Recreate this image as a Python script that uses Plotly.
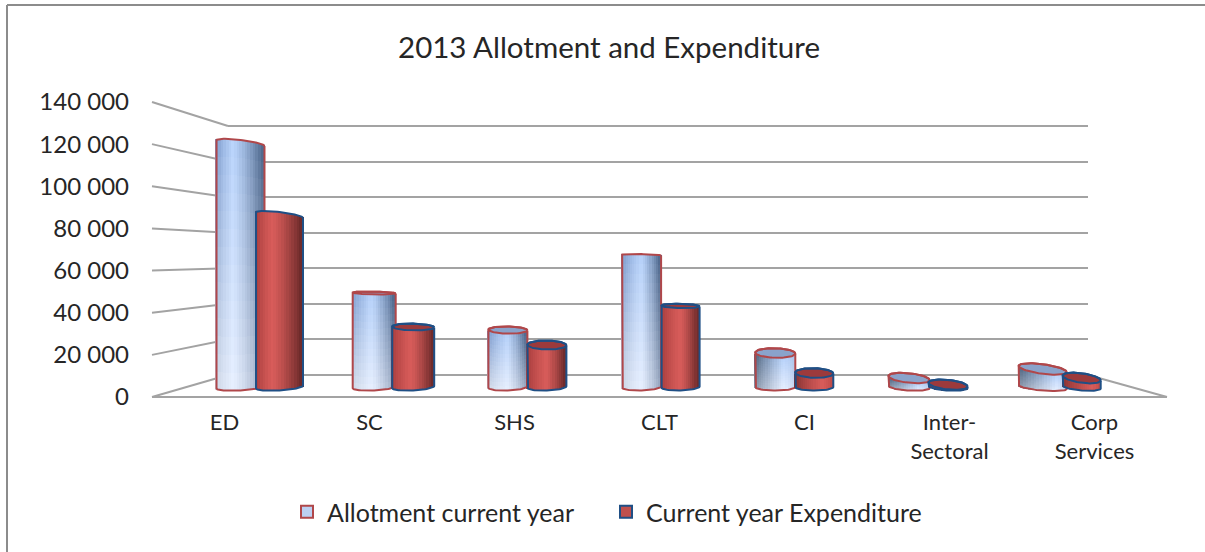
import math
import plotly.graph_objects as go

W, H = 1205, 552
FONT = "Lato"
TEXT = "#262626"

categories = ["ED", "SC", "SHS", "CLT", "CI", "Inter-<br>Sectoral", "Corp<br>Services"]
allotment = [122000, 47000, 28500, 66000, 17000, 4500, 9000]
expenditure = [86000, 30000, 21000, 40500, 7000, 1200, 4500]
tick_vals = [0, 20000, 40000, 60000, 80000, 100000, 120000, 140000]
tick_text = ["0", "20 000", "40 000", "60 000", "80 000", "100 000", "120 000", "140 000"]
series_names = ["Allotment current year", "Current year Expenditure"]

# style only: apparent perspective of each cylinder
width_a = [48, 43, 39, 39, 40, 41, 48]
width_e = [47, 42, 39, 38, 38, 39, 38]
highlight = [0.36, 0.45, 0.5, 0.5, 0.72, 0.75, 0.8]
tilt_top = [0.12, 0.02, 0.02, 0.02, 0.03, 0.1, 0.13]
tilt_bot = [-0.06, -0.05, -0.04, -0.03, 0.0, 0.06, 0.08]

GROUP_PX = 133.7
PX_PER_UNIT = 2 / 1000


def fx(px):
    return px / W


def fy(py):
    return (H - py) / H


def lerp(a, b, t):
    return a + (b - a) * t


def mix(c1, c2, t):
    return tuple(lerp(p, q, t) for p, q in zip(c1, c2))


def rgb(c):
    return "rgb(%d,%d,%d)" % tuple(round(v) for v in c)


def shade(u, hi, dark_l, light, dark_r):
    """u in 0..1 across the cylinder; brightest at hi."""
    if u < hi:
        return mix(dark_l, light, (u / hi) ** 0.8)
    return mix(light, dark_r, ((u - hi) / (1 - hi)) ** 1.3)


def cap_half(value):
    ytop = 387 - value * PX_PER_UNIT
    return max(-3.0, min(4.8, 0.06 * (ytop - 270)))


def cylinder(values, widths, side, xa, ya, line_col, cap_col, vertical, fill_fn):
    traces = []
    N = 18
    bx, bb, bh, bw, bc = [], [], [], [], []
    bot = 3.5 / PX_PER_UNIT
    for i, v in enumerate(values):
        cx = i + side / GROUP_PX
        hw = widths[i] / 2 / GROUP_PX
        b = cap_half(v) / PX_PER_UNIT
        hw_px = widths[i] / 2
        for s in range(N):
            u0 = (s + 0.5) / N
            uc = 2 * u0 - 1
            rr = math.sqrt(max(0, 1 - uc * uc))
            top = v - b * rr - tilt_top[i] * uc * hw_px / PX_PER_UNIT
            base = -bot * rr - tilt_bot[i] * uc * hw_px / PX_PER_UNIT
            segs = 14 if vertical else 1
            for k in range(segs):
                t0, t1 = k / segs, (k + 1) / segs
                lo = lerp(base, top, t0)
                hi = lerp(base, top, t1)
                bx.append(cx + uc * hw)
                bb.append(lo)
                bh.append(hi - lo)
                bw.append(2 * hw / N * 1.7)
                bc.append(rgb(fill_fn(u0, highlight[i], (t0 + t1) / 2)))
    traces.append(go.Bar(x=bx, y=bh, base=bb, width=bw, marker=dict(color=bc, line=dict(width=0)),
                         xaxis=xa, yaxis=ya, showlegend=False, hoverinfo="skip"))
    for i, v in enumerate(values):
        cx = i + side / GROUP_PX
        hw = widths[i] / 2 / GROUP_PX
        hw_px = widths[i] / 2
        b = cap_half(v) / PX_PER_UNIT
        n = 36
        us = [math.cos(math.pi * j / n) for j in range(n + 1)]
        ss = [math.sin(math.pi * j / n) for j in range(n + 1)]
        edge_x = [cx + c * hw for c in us]
        rear_y = [v + b * s - tilt_top[i] * c * hw_px / PX_PER_UNIT for c, s in zip(us, ss)]
        front_edge = [v - b * s - tilt_top[i] * c * hw_px / PX_PER_UNIT for c, s in zip(us, ss)]
        bot_y = [-bot * s - tilt_bot[i] * c * hw_px / PX_PER_UNIT for c, s in zip(us, ss)]
        if b > 0:
            traces.append(go.Scatter(x=edge_x + edge_x[::-1], y=rear_y + front_edge[::-1], mode="lines",
                                     fill="toself", fillcolor=cap_col, line=dict(color=line_col, width=2),
                                     xaxis=xa, yaxis=ya, showlegend=False, hoverinfo="skip"))
        top_edge = front_edge if b <= 0 else rear_y
        outline_x = edge_x + edge_x[::-1] + [edge_x[0]]
        outline_y = top_edge + bot_y[::-1] + [top_edge[0]]
        traces.append(go.Scatter(x=outline_x, y=outline_y, mode="lines", line=dict(color=line_col, width=2),
                                 xaxis=xa, yaxis=ya, showlegend=False, hoverinfo="skip"))
    return traces


def fill_allot(u, hi, t):
    dark_l = mix((205, 214, 228), (120, 150, 200), t)
    light = mix((232, 240, 255), (184, 211, 251), t)
    dark_r = mix((150, 165, 190), (72, 98, 135), t)
    if hi > 0.6:
        dark_l = mix((130, 145, 165), (70, 90, 115), t)
        dark_r = mix((200, 215, 240), (170, 195, 235), t)
    return shade(u, hi, dark_l, light, dark_r)


def fill_exp(u, hi, t):
    dark_l = (165, 60, 60)
    light = (216, 92, 90)
    dark_r = (105, 40, 40)
    if hi > 0.6:
        dark_l = (130, 48, 48)
        dark_r = (190, 75, 72)
    return shade(u, hi, dark_l, light, dark_r)


fig = go.Figure()

fig.add_trace(go.Scatter(x=[0], y=[0], mode="markers", marker=dict(opacity=0), xaxis="x", yaxis="y",
                         showlegend=False, hoverinfo="skip"))
fig.add_trace(go.Scatter(x=[0], y=[0], mode="markers", marker=dict(opacity=0), xaxis="x2", yaxis="y2",
                         showlegend=False, hoverinfo="skip"))

for t in cylinder(allotment, width_a, -19.5, "x3", "y3", "#b0474a", "#8aa3cb", True, fill_allot):
    fig.add_trace(t)
for t in cylinder(expenditure, width_e, 19.5, "x4", "y4", "#1f4f85", "#9c3a3c", False, fill_exp):
    fig.add_trace(t)

fig.add_trace(go.Bar(x=[0], y=[None], name=series_names[0], xaxis="x3", yaxis="y3",
                     marker=dict(color="#bcd0f2", line=dict(color="#b0474a", width=2))))
fig.add_trace(go.Bar(x=[0], y=[None], name=series_names[1], xaxis="x4", yaxis="y4",
                     marker=dict(color="#c0504d", line=dict(color="#1f4f85", width=2))))

GRID = "#a3a3a3"
FRONT_TOP, FRONT_BOT = 102, 397
BACK_TOP, BACK_BOT = 126, 375
TOPV = tick_vals[-1]
HEAD = 1.02  # axis head-room so the top gridline is kept


def front_y(v):
    return FRONT_BOT + (FRONT_TOP - FRONT_BOT) * v / TOPV


def back_y(v):
    return BACK_BOT + (BACK_TOP - BACK_BOT) * v / TOPV


shapes = []
for v in tick_vals:
    shapes.append(dict(type="line", xref="paper", yref="paper", x0=fx(152), y0=fy(front_y(v)), x1=fx(228),
                       y1=fy(back_y(v)), line=dict(color=GRID, width=2), layer="below"))
shapes.append(dict(type="line", xref="paper", yref="paper", x0=fx(1088), y0=fy(back_y(0)), x1=fx(1167),
                   y1=fy(front_y(0)), line=dict(color=GRID, width=2), layer="below"))
shapes.append(dict(type="line", xref="paper", yref="paper", x0=fx(7), y0=fy(5), x1=fx(1205), y1=fy(5),
                   line=dict(color="#8c8c8c", width=2)))
shapes.append(dict(type="line", xref="paper", yref="paper", x0=fx(7), y0=fy(5), x1=fx(7), y1=fy(552),
                   line=dict(color="#8c8c8c", width=2)))

bar_dom_x = [fx(260 - GROUP_PX / 2), fx(260 + 6.5 * GROUP_PX)]
bar_dom_y = [fy(403), fy(107)]
bar_range_y = [-16 / PX_PER_UNIT, 280 / PX_PER_UNIT]
hidden = dict(visible=False, fixedrange=True)

fig.update_layout(
    template="none",
    width=W, height=H, autosize=False, margin=dict(l=0, r=0, t=0, b=0, pad=0),
    paper_bgcolor="white", plot_bgcolor="rgba(0,0,0,0)",
    barmode="overlay", bargap=0,
    font=dict(family=FONT, color=TEXT, size=20),
    title=dict(text="2013 Allotment and Expenditure", x=609 / W, xanchor="center", xref="paper",
               y=fy(48), yanchor="middle", yref="paper", font=dict(family=FONT, size=29.5, color=TEXT)),
    xaxis=dict(domain=[fx(228), fx(1088)], range=[0, 1], visible=False, fixedrange=True, anchor="y"),
    yaxis=dict(domain=[fy(BACK_BOT), fy(BACK_BOT + (BACK_TOP - BACK_BOT) * HEAD)], range=[0, TOPV * HEAD],
               tickvals=tick_vals, showgrid=True,
               gridcolor=GRID, gridwidth=2, showticklabels=False, zeroline=True, zerolinecolor=GRID,
               zerolinewidth=2, ticks="", showline=False, anchor="x", fixedrange=True),
    xaxis2=dict(domain=[fx(152), fx(1167)], range=[-0.5, 6.5], tickvals=list(range(7)), ticktext=categories,
                showgrid=False, zeroline=False, showline=False, ticks="", anchor="y2", fixedrange=True,
                ticklabelstandoff=10, tickfont=dict(size=22, family=FONT, color=TEXT)),
    yaxis2=dict(domain=[fy(FRONT_BOT), fy(FRONT_TOP)], range=[0, TOPV], tickvals=tick_vals, ticktext=tick_text,
                showgrid=False, zeroline=True, zerolinecolor=GRID, zerolinewidth=2, showline=False, ticks="",
                anchor="x2", fixedrange=True, ticklabelstandoff=22,
                tickfont=dict(size=24, family=FONT, color=TEXT)),
    xaxis3=dict(domain=bar_dom_x, range=[-0.5, 6.5], anchor="y3", **hidden),
    yaxis3=dict(domain=bar_dom_y, range=bar_range_y, anchor="x3", **hidden),
    xaxis4=dict(range=[-0.5, 6.5], overlaying="x3", anchor="y4", **hidden),
    yaxis4=dict(range=bar_range_y, overlaying="y3", anchor="x4", **hidden),
    legend=dict(orientation="h", x=287 / W, xanchor="left", y=fy(512), yanchor="middle",
                font=dict(size=25, family=FONT, color=TEXT), itemwidth=30, entrywidth=274,
                entrywidthmode="pixels", bgcolor="rgba(0,0,0,0)",
                traceorder="normal", itemclick=False, itemdoubleclick=False),
    shapes=shapes,
)

fig.write_html("out.html", config={"displayModeBar": False},
               post_script="document.body.style.margin='0';document.body.style.overflow='hidden';")
